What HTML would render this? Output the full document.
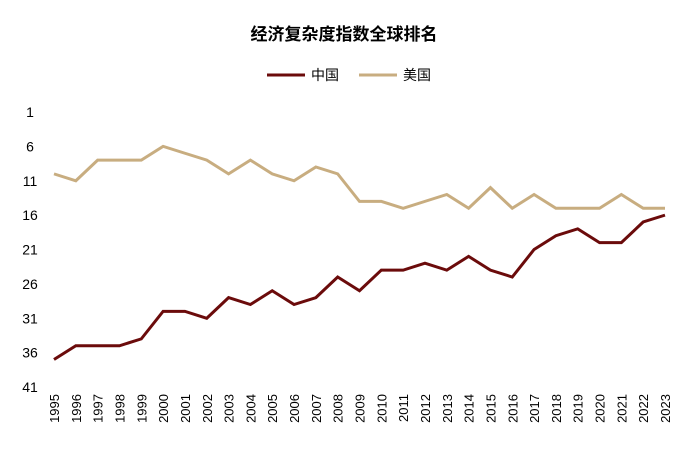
<!DOCTYPE html>
<html><head><meta charset="utf-8"><style>
body{margin:0;background:#fff;width:688px;height:450px;overflow:hidden;font-family:"Liberation Sans","Noto Sans CJK SC",sans-serif;}
</style></head><body>
<svg id="chart" width="688" height="450" xmlns="http://www.w3.org/2000/svg" font-family="Liberation Sans, Noto Sans CJK SC, sans-serif">
<text x="344" y="40" text-anchor="middle" font-size="17" font-weight="bold" fill="#000">经济复杂度指数全球排名</text>
<g>
<line x1="267" y1="75" x2="305" y2="75" stroke="#6b0b0b" stroke-width="3"/>
<text x="311" y="80" font-size="14">中国</text>
<line x1="359" y1="75" x2="397" y2="75" stroke="#c8ad80" stroke-width="3"/>
<text x="403" y="80" font-size="14">美国</text>
</g>
<g id="yaxis"></g>
<g id="xaxis"></g>
<g id="series"></g>
</svg>
<script>
const years=[1995,1996,1997,1998,1999,2000,2001,2002,2003,2004,2005,2006,2007,2008,2009,2010,2011,2012,2013,2014,2015,2016,2017,2018,2019,2020,2021,2022,2023];
const chinaRank=[37,35,35,35,34,30,30,31,28,29,27,29,28,25,27,24,24,23,24,22,24,25,21,19,18,20,20,17,16];
const usRank=[10,11,8,8,8,6,7,8,10,8,10,11,9,10,14,14,15,14,13,15,12,15,13,15,15,15,13,15,15];
const yTicks=[1,6,11,16,21,26,31,36,41];
const NS="http://www.w3.org/2000/svg";
const x0=54,x1=665,yTop=112,yBot=387;
function xs(i){return x0+(x1-x0)*i/(years.length-1);}
function ys(r){return yTop+(yBot-yTop)*(r-1)/40;}
const ya=document.getElementById('yaxis');
yTicks.forEach(t=>{const e=document.createElementNS(NS,'text');


e.setAttribute('x',30);e.setAttribute('y',ys(t)+5);e.setAttribute('text-anchor','middle');e.setAttribute('font-size','14');e.textContent=t;ya.appendChild(e);});
const xa=document.getElementById('xaxis');
years.forEach((y,i)=>{const e=document.createElementNS(NS,'text');


const cx=xs(i)+5;e.setAttribute('transform','translate('+cx+',394) rotate(-90)');e.setAttribute('text-anchor','end');e.setAttribute('font-size','13');e.textContent=y;xa.appendChild(e);});
const sg=document.getElementById('series');
function line(data,color,name){const p=document.createElementNS(NS,'polyline');


p.setAttribute('points',data.map((v,i)=>xs(i)+','+ys(v)).join(' '));p.setAttribute('fill','none');p.setAttribute('stroke',color);p.setAttribute('stroke-width','3');sg.appendChild(p);}
line(usRank,'#c8ad80','us-line');
line(chinaRank,'#6b0b0b','china-line');
</script>
</body></html>
